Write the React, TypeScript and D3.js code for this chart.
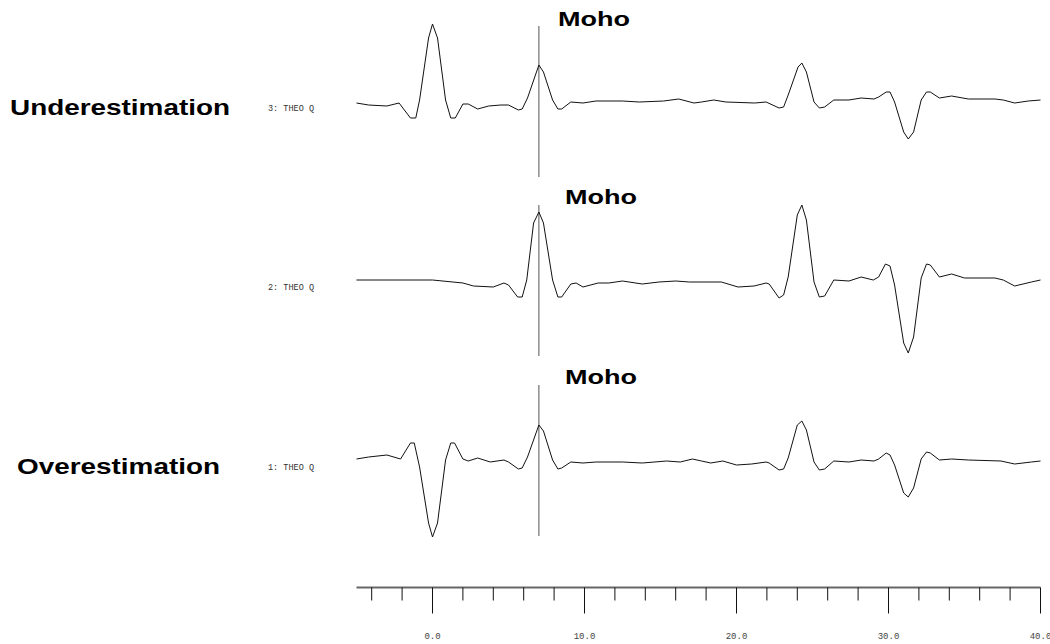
import React from 'react';
import * as d3 from 'd3';

// Time axis (s)
const timeDomain: [number, number] = [-5, 40];
const minorTicks = d3.range(-4, 41, 2);
const majorTicks = [0, 10, 20, 30, 40];
const mohoTime = 7.0;
const mohoExtent: [number, number] = [-0.75, 0.76];

// Traces: [time (s), amplitude]
const trace3: [number, number][] = [
  [-5.0, -0.01], [-4.2, -0.03], [-3.0, -0.04], [-2.2, -0.01], [-1.45, -0.16], [-1.1, -0.16],
  [-0.85, 0.02], [-0.26, 0.64], [0.0, 0.78], [0.33, 0.64], [0.86, 0.02], [1.2, -0.16],
  [1.5, -0.16], [2.0, -0.02], [2.35, -0.02], [2.97, -0.07], [3.7, -0.04], [4.5, -0.03],
  [5.0, -0.03], [5.65, -0.08], [5.9, -0.07], [6.25, 0.04], [7.0, 0.37], [7.3, 0.3],
  [7.9, 0.02], [8.25, -0.07], [8.5, -0.07], [9.1, 0.0], [9.9, -0.01], [10.75, 0.01],
  [12.5, 0.01], [13.6, 0.0], [15.2, 0.01], [16.2, 0.03], [17.2, -0.01], [17.7, 0.0],
  [18.5, 0.02], [19.3, 0.0], [21.2, -0.01], [21.95, 0.0], [22.8, -0.06], [23.1, -0.05],
  [23.4, 0.07], [24.05, 0.35], [24.3, 0.39], [24.6, 0.3], [25.1, 0.0], [25.45, -0.06],
  [25.8, -0.05], [26.4, 0.02], [27.4, 0.02], [28.2, 0.04], [29.05, 0.03], [29.35, 0.05],
  [29.85, 0.1], [30.1, 0.1], [30.4, 0.0], [31.0, -0.3], [31.3, -0.37], [31.65, -0.3],
  [32.15, 0.02], [32.5, 0.1], [32.75, 0.1], [33.35, 0.04], [34.15, 0.06], [35.25, 0.03],
  [37.0, 0.03], [37.55, 0.02], [38.3, -0.01], [39.2, 0.01], [40.0, 0.02],
];

const trace2: [number, number][] = [
  [-5.0, 0.01], [0.0, 0.01], [2.0, -0.02], [2.7, -0.05], [4.0, -0.06], [4.7, -0.02],
  [5.0, -0.04], [5.6, -0.16], [5.9, -0.16], [6.2, 0.01], [6.65, 0.58], [7.0, 0.69],
  [7.3, 0.58], [7.9, 0.01], [8.25, -0.16], [8.5, -0.16], [9.1, -0.03], [9.45, -0.02],
  [9.9, -0.06], [10.9, -0.02], [11.6, -0.02], [12.5, 0.0], [13.8, -0.03], [14.9, -0.01],
  [16.0, 0.0], [16.9, -0.01], [18.0, -0.01], [19.0, -0.01], [20.1, -0.06], [21.15, -0.05],
  [21.95, -0.02], [22.15, -0.03], [22.8, -0.17], [23.1, -0.14], [23.4, 0.04], [24.0, 0.66],
  [24.3, 0.76], [24.6, 0.61], [25.1, -0.01], [25.45, -0.16], [25.8, -0.15], [26.4, 0.01],
  [27.4, 0.0], [28.2, 0.04], [29.0, 0.01], [29.35, 0.04], [29.8, 0.17], [30.1, 0.15],
  [30.4, -0.04], [31.0, -0.62], [31.3, -0.72], [31.65, -0.56], [32.15, 0.03], [32.5, 0.17],
  [32.75, 0.16], [33.35, 0.04], [34.15, 0.07], [35.0, 0.03], [37.0, 0.03], [37.55, 0.01],
  [38.3, -0.05], [39.4, -0.01], [40.0, 0.01],
];

const trace1: [number, number][] = [
  [-5.0, 0.02], [-4.2, 0.04], [-3.0, 0.06], [-2.1, 0.02], [-1.45, 0.18], [-1.2, 0.18],
  [-0.85, -0.06], [-0.26, -0.62], [0.0, -0.76], [0.33, -0.62], [0.86, 0.01], [1.2, 0.18],
  [1.45, 0.18], [2.0, 0.02], [2.35, 0.0], [2.97, 0.03], [3.8, -0.01], [4.7, 0.01],
  [5.0, -0.01], [5.65, -0.08], [5.9, -0.07], [6.25, 0.04], [7.0, 0.36], [7.3, 0.3],
  [7.9, 0.01], [8.25, -0.08], [8.5, -0.07], [9.1, -0.01], [9.9, -0.02], [10.75, -0.01],
  [12.5, -0.01], [13.8, -0.02], [15.4, 0.0], [16.3, -0.01], [17.1, 0.02], [17.7, 0.0],
  [18.3, -0.02], [19.1, 0.0], [20.0, -0.04], [21.0, -0.03], [21.95, -0.01], [22.15, -0.02],
  [22.8, -0.09], [23.1, -0.08], [23.4, 0.03], [24.0, 0.36], [24.3, 0.4], [24.6, 0.31],
  [25.1, -0.01], [25.45, -0.09], [25.8, -0.08], [26.4, 0.0], [27.4, -0.01], [28.2, 0.01],
  [29.05, 0.0], [29.35, 0.02], [29.85, 0.08], [30.1, 0.06], [30.4, -0.04], [31.0, -0.32],
  [31.3, -0.36], [31.65, -0.27], [32.15, 0.02], [32.5, 0.09], [32.75, 0.08], [33.35, 0.01],
  [34.15, 0.02], [35.25, 0.01], [37.4, 0.0], [38.3, -0.03], [39.4, -0.01], [40.0, 0.0],
];

const traceLabels = ['3: THEO Q', '2: THEO Q', '1: THEO Q'];
const sideLabels = ['Underestimation', '', 'Overestimation'];
const mohoLabel = 'Moho';

const W = 1050;
const H = 644;

export default function App() {
  const x = d3.scaleLinear().domain(timeDomain).range([356.5, 1040.5]);
  const baselines = [102, 281, 461];
  const traces = [trace3, trace2, trace1];
  const sideLayout = [
    { x: 10, len: 220 },
    { x: 0, len: 0 },
    { x: 17, len: 203 },
  ];
  const mohoX = [558, 565, 565];
  const axisY = 587.5;

  return (
    <svg
      width={W}
      height={H}
      style={{ position: 'absolute', left: 0, top: 0, background: '#fff' }}
    >
      <rect x={0} y={0} width={W} height={H} fill="#fff" />
      {traces.map((data, i) => {
        const b = baselines[i];
        const y = d3.scaleLinear().domain([-1, 1]).range([b + 100, b - 100]);
        const line = d3
          .line<[number, number]>()
          .x((d) => x(d[0]))
          .y((d) => y(d[1]))
          .curve(d3.curveLinear);
        return (
          <g key={i}>
            <line
              x1={x(mohoTime)}
              x2={x(mohoTime)}
              y1={y(mohoExtent[1])}
              y2={y(mohoExtent[0])}
              stroke="#555"
              strokeWidth={1}
            />
            <path d={line(data) || ''} fill="none" stroke="#111" strokeWidth={1} />
            <text
              x={268}
              y={b + 8.5}
              fontFamily="'Liberation Mono', monospace"
              fontSize={9.5}
              textLength={46}
              lengthAdjust="spacingAndGlyphs"
              fill="#333"
            >
              {traceLabels[i]}
            </text>
            <text
              x={mohoX[i]}
              y={y(mohoExtent[1]) - (i === 0 ? 0 : 1)}
              fontFamily="'Liberation Sans', Arial, sans-serif"
              fontWeight="bold"
              fontSize={20}
              textLength={72}
              lengthAdjust="spacingAndGlyphs"
              fill="#000"
            >
              {mohoLabel}
            </text>
            {sideLabels[i] && (
              <text
                x={sideLayout[i].x}
                y={b + 12.5}
                fontFamily="'Liberation Sans', Arial, sans-serif"
                fontWeight="bold"
                fontSize={22}
                textLength={sideLayout[i].len}
                lengthAdjust="spacingAndGlyphs"
                fill="#000"
              >
                {sideLabels[i]}
              </text>
            )}
          </g>
        );
      })}
      <g>
        <line
          x1={x(timeDomain[0])}
          x2={x(timeDomain[1])}
          y1={axisY}
          y2={axisY}
          stroke="#666"
          strokeWidth={2}
        />
        {minorTicks.map((t) => {
          const major = majorTicks.includes(t);
          return (
            <line
              key={t}
              x1={x(t)}
              x2={x(t)}
              y1={axisY}
              y2={major ? 613.5 : 600.5}
              stroke="#111"
              strokeWidth={1}
            />
          );
        })}
        {majorTicks.map((t) => (
          <text
            key={t}
            x={x(t)}
            y={639}
            textAnchor="middle"
            fontFamily="'Liberation Mono', monospace"
            fontSize={9}
            fill="#444"
          >
            {d3.format('.1f')(t)}
          </text>
        ))}
      </g>
    </svg>
  );
}
